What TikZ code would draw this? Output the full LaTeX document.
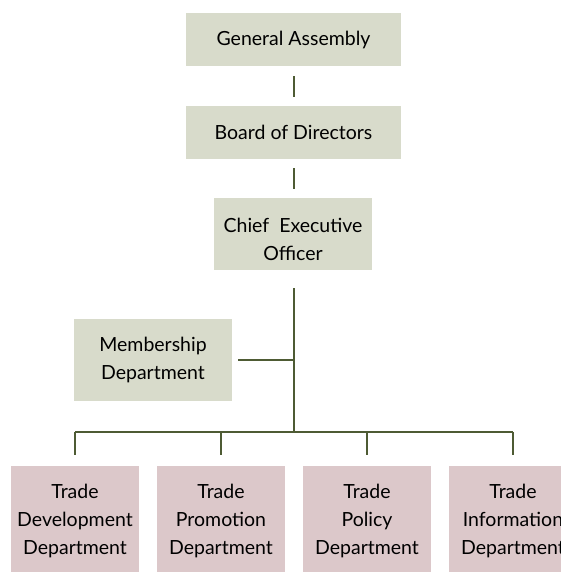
\documentclass[tikz,border=0pt]{standalone}
\usepackage{fontspec}
\setmainfont{Lato}
\definecolor{boxgreen}{HTML}{D8DBCB}
\definecolor{boxpink}{HTML}{DCC8CA}
\definecolor{linkolive}{HTML}{4E5B34}
\tikzset{
	unit/.style = {fill = boxgreen, align = center, inner sep = 0pt},
	dept/.style = {fill = boxpink, align = center, inner sep = 0pt,
		minimum width = 128, minimum height = 110},
	link/.style = {draw = linkolive, line width = 2pt}
}
\begin{document}
\begin{tikzpicture}[x = 1pt, y = -1pt, font = \fontsize{19.5}{28}\selectfont]
	\useasboundingbox (0,0) rectangle (561,572);
	\def\dx{146}  %khoảng cách các phòng ban
	\def\dy{521}  %tâm các phòng ban
	\node[unit, minimum width = 215, minimum height = 53] (ga) at (293.5,39.5) {General Assembly};
	\node[unit, minimum width = 215, minimum height = 53] (bod) at (293.5,132.5) {Board of Directors};
	\node[unit, minimum width = 158, minimum height = 72, text height = 54pt] (ceo) at (293,234) {Chief\ \ Executive\\Officer};
	\node[unit, minimum width = 158, minimum height = 82] (mem) at (153,360) {Membership\\Department};
	\node[dept] (td) at (75,\dy) {Trade\\Development\\Department};
	\node[dept] (tp) at (75+\dx,\dy) {Trade\\Promotion\\Department};
	\node[dept] (tpo) at (75+2*\dx,\dy) {Trade\\Policy\\Department};
	\node[dept] (ti) at (75+3*\dx,\dy) {Trade\\Information\\Department};
	\coordinate (bus) at (294,432);
	
	\draw[link, shorten <= 10pt, shorten >= 9pt] (ga.south -| bus) -- (bod.north -| bus);
	\draw[link, shorten <= 9pt, shorten >= 9pt] (bod.south -| bus) -- (ceo.north -| bus);
	\draw[link, shorten <= 18pt] (ceo.south -| bus) -- (bus);
	\draw[link, shorten <= 6pt] (mem.east) -- (mem.east -| bus);
	\draw[link] (td |- bus) -- (ti |- bus);
	\foreach \n in {td,tp,tpo,ti}
	\draw[link, shorten >= 11pt] (\n |- bus) -- (\n.north);
\end{tikzpicture}
\end{document}
